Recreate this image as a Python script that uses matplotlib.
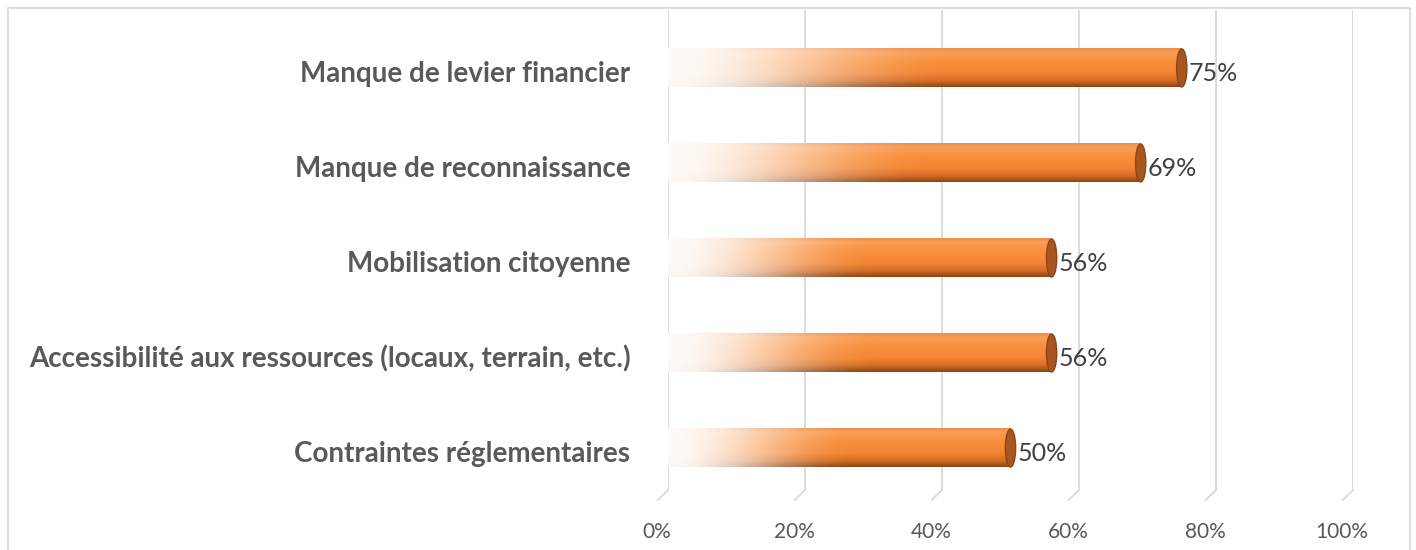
import numpy as np
import matplotlib.pyplot as plt
from matplotlib.patches import Ellipse, Rectangle

categories = ["Contraintes réglementaires",
              "Accessibilité aux ressources (locaux, terrain, etc.)",
              "Mobilisation citoyenne",
              "Manque de reconnaissance",
              "Manque de levier financier"]
values = [50, 56, 56, 69, 75]
xticks = [0, 20, 40, 60, 80, 100]
xtick_labels = ["0%", "20%", "40%", "60%", "80%", "100%"]

plt.rcParams['font.family'] = ['Lato', 'DejaVu Sans']

fig = plt.figure(figsize=(14.16, 5.5), dpi=100)
ax = fig.add_axes([668/1416, 50/550, (1353-668)/1416, 490/550])
ax.set_xlim(0, 100)
ax.set_ylim(-0.547, 4.61)

# border round the chart
fig.patches.append(Rectangle((8/1416, -0.05), 1402/1416, 1.05 - 8/550,
                             transform=fig.transFigure, fill=False,
                             edgecolor='#d9d9d9', lw=1.2))

# walls / floor lines
for x in xticks:
    ax.plot([x, x], [-0.442, 4.61], color='#d9d9d9', lw=1.3, zorder=1)
    ax.plot([x, x - 1.5], [-0.442, -0.547], color='#d9d9d9', lw=1.3,
            zorder=1, clip_on=False)

# vertical shading of the cylinder (top -> bottom)
stops = np.array([0.0, 0.1, 0.35, 0.65, 0.85, 1.0])
cols = np.array([[0.93, 0.55, 0.30],
                 [0.98, 0.62, 0.33],
                 [0.97, 0.56, 0.24],
                 [0.95, 0.52, 0.20],
                 [0.82, 0.42, 0.14],
                 [0.55, 0.27, 0.08]])
ny, nx = 60, 300
yy = np.linspace(0, 1, ny)
shade = np.stack([np.interp(yy, stops, cols[:, k]) for k in range(3)], axis=1)
h = 0.4

for i, v in enumerate(values):
    xx = np.linspace(0, 1, nx)
    t = np.clip(xx / 0.55, 0, 1)
    a = 0.04 + 0.96 * (t * t * (3 - 2 * t))
    img = np.ones((ny, nx, 3))
    for k in range(3):
        img[:, :, k] = 1 - a[None, :] * (1 - shade[:, k][:, None])
    ax.imshow(img, extent=(0, v, i - h/2, i + h/2), aspect='auto',
              interpolation='bilinear', zorder=2, origin='upper')
    ax.add_patch(Ellipse((v, i), 1.5, h, facecolor='#a8561f',
                         edgecolor='#8e4515', lw=1, zorder=3))
    ax.text(v + 1.0, i - 0.06, f"{v}%", va='center', ha='left', fontsize=18,
            color='#404040', zorder=4)
    ax.text(-5.5, i - 0.06, categories[i], va='center', ha='right',
            fontsize=20, fontweight='bold', color='#595959', clip_on=False)

ax.set_xticks([])
ax.set_yticks([])
for x, lab in zip(xticks, xtick_labels):
    ax.text(x - 1.6, -0.884, lab, ha='center', va='center', fontsize=15,
            color='#595959', clip_on=False)
for s in ax.spines.values():
    s.set_visible(False)

fig.savefig("out.png", dpi=100)
